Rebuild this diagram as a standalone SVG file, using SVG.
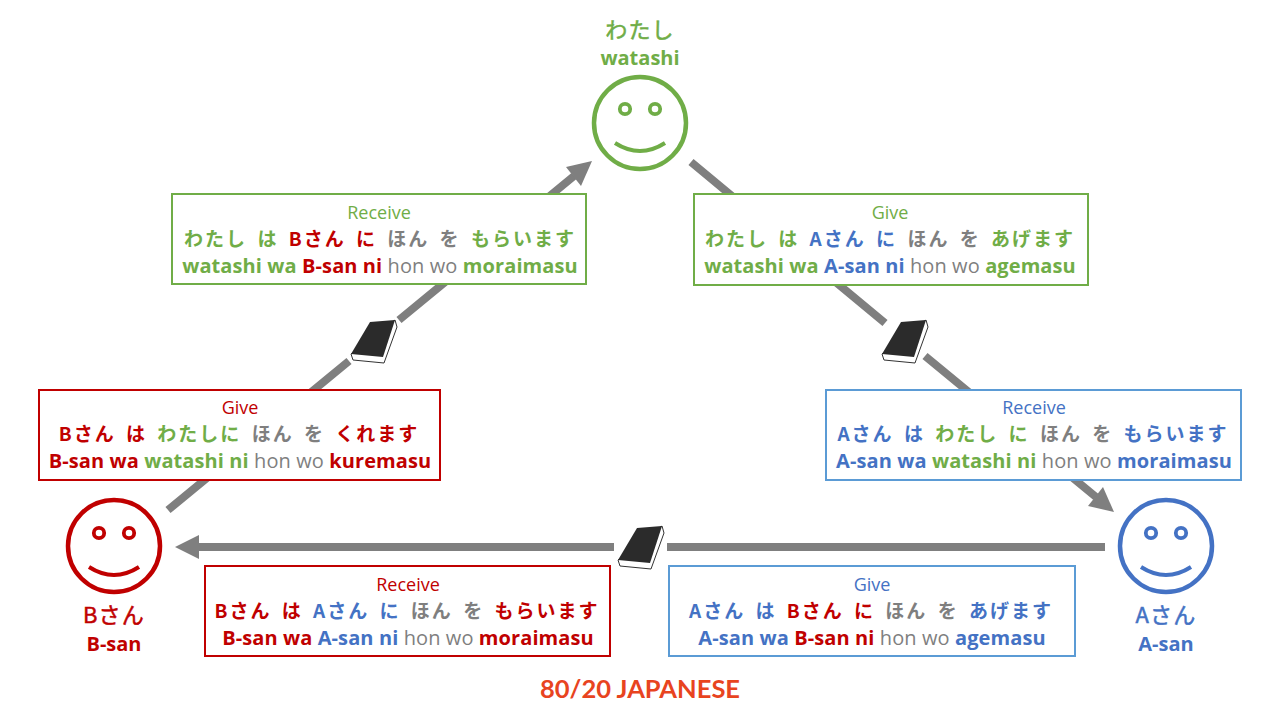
<svg xmlns="http://www.w3.org/2000/svg" width="1280" height="720" viewBox="0 0 1280 720">
<style>
text{text-anchor:middle;font-family:"Open Sans","Noto Sans CJK JP",sans-serif}
.t{font-size:18px}
.j{font-size:19px;font-weight:700;font-family:"Noto Sans CJK JP",sans-serif;word-spacing:4px;letter-spacing:2px}
.r{font-size:20px;font-weight:700;letter-spacing:.1px}
.n{font-weight:400;fill:#7f7f7f}
.gk{fill:#7f7f7f}
.g{fill:#70ad47}.d{fill:#c00000}.b{fill:#4472c4}
.box{fill:#fff;stroke-width:2}
.face{fill:none;stroke-width:4.5}
.eye{fill:none;stroke-width:3.8}
.smile{fill:none;stroke-width:4}
.c{fill:none;stroke:#7f7f7f;stroke-width:8}
.ah{fill:#7f7f7f}
.cover{fill:#2b2b2b}
.page{fill:#fff;stroke:#333;stroke-width:1}
.nj{font-size:22px;font-family:"Noto Sans CJK JP",sans-serif;letter-spacing:1.2px;stroke-width:.5px}
.nj.g{stroke:#70ad47}.nj.d{stroke:#c00000}.nj.b{stroke:#4472c4}
.nr{font-size:20px;font-weight:700}
</style>
<defs>
<g id="book">
<path class="page" d="M22-21L24-14L11 22L-20 19L-22 13Z"/>
<path class="cover" d="M-22 13L-3-19L22-21L10 16Z"/>
</g>
</defs>
<g id="connectors">
<path class="c" d="M168 510L349 361M399 320L574 176"/>
<path class="ah" d="M592 161L566 167L581 186Z"/>
<path class="c" d="M691 162L885 323M925 356L1096 497"/>
<path class="ah" d="M1114 512L1103 487L1088 506Z"/>
<path class="c" d="M1105 547L667 547M614 547L198 547"/>
<path class="ah" d="M175 547L199 535L199 559Z"/>
</g>
<g id="books">
<use href="#book" x="373" y="341"/>
<use href="#book" x="904" y="341"/>
<use href="#book" x="640" y="547"/>
</g>
<g id="node-watashi">
<text class="nj g" x="640" y="38">わたし</text>
<text class="nr g" x="640" y="65">watashi</text>
<circle class="face" cx="640" cy="123" r="46" stroke="#70ad47"/>
<circle class="eye" cx="625" cy="109" r="5.2" stroke="#70ad47"/>
<circle class="eye" cx="655" cy="109" r="5.2" stroke="#70ad47"/>
<path class="smile" d="M615 143Q640 159 665 143" stroke="#70ad47"/>
</g>
<g id="node-bsan">
<circle class="face" cx="114" cy="546" r="46" stroke="#c00000"/>
<circle class="eye" cx="99" cy="533" r="5.2" stroke="#c00000"/>
<circle class="eye" cx="129" cy="533" r="5.2" stroke="#c00000"/>
<path class="smile" d="M89 567Q114 583 139 567" stroke="#c00000"/>
<text class="nj d" x="114" y="623">Bさん</text>
<text class="nr d" x="114" y="651">B-san</text>
</g>
<g id="node-asan">
<circle class="face" cx="1166" cy="546" r="46" stroke="#4472c4"/>
<circle class="eye" cx="1151" cy="533" r="5.2" stroke="#4472c4"/>
<circle class="eye" cx="1181" cy="533" r="5.2" stroke="#4472c4"/>
<path class="smile" d="M1141 567Q1166 583 1191 567" stroke="#4472c4"/>
<text class="nj b" x="1166" y="623">Aさん</text>
<text class="nr b" x="1166" y="651">A-san</text>
</g>
<g id="box-watashi-receive">
<rect class="box" x="172" y="194" width="414" height="90" stroke="#70ad47"/>
<text class="t g" x="379" y="219">Receive</text>
<text class="j" x="380" y="246"><tspan class="g">わたし は </tspan><tspan class="d">Bさん に </tspan><tspan class="gk">ほん を </tspan><tspan class="g">もらいます</tspan></text>
<text class="r" x="380" y="273"><tspan class="g">watashi wa </tspan><tspan class="d">B-san ni </tspan><tspan class="n">hon wo </tspan><tspan class="g">moraimasu</tspan></text>
</g>
<g id="box-watashi-give">
<rect class="box" x="694" y="194" width="394" height="91" stroke="#70ad47"/>
<text class="t g" x="890" y="219">Give</text>
<text class="j" x="890" y="246"><tspan class="g">わたし は </tspan><tspan class="b">Aさん に </tspan><tspan class="gk">ほん を </tspan><tspan class="g">あげます</tspan></text>
<text class="r" x="890" y="273"><tspan class="g">watashi wa </tspan><tspan class="b">A-san ni </tspan><tspan class="n">hon wo </tspan><tspan class="g">agemasu</tspan></text>
</g>
<g id="box-bsan-give">
<rect class="box" x="39" y="390" width="401" height="90" stroke="#c00000"/>
<text class="t d" x="240" y="414">Give</text>
<text class="j" x="239" y="441"><tspan class="d">Bさん は </tspan><tspan class="g">わたしに </tspan><tspan class="gk">ほん を </tspan><tspan class="d">くれます</tspan></text>
<text class="r" x="240" y="468"><tspan class="d">B-san wa </tspan><tspan class="g">watashi ni </tspan><tspan class="n">hon wo </tspan><tspan class="d">kuremasu</tspan></text>
</g>
<g id="box-asan-receive">
<rect class="box" x="826" y="390" width="415" height="90" stroke="#5b9bd5"/>
<text class="t b" x="1034" y="414">Receive</text>
<text class="j" x="1033" y="441"><tspan class="b">Aさん は </tspan><tspan class="g">わたし に </tspan><tspan class="gk">ほん を </tspan><tspan class="b">もらいます</tspan></text>
<text class="r" x="1034" y="468"><tspan class="b">A-san wa </tspan><tspan class="g">watashi ni </tspan><tspan class="n">hon wo </tspan><tspan class="b">moraimasu</tspan></text>
</g>
<g id="box-bsan-receive">
<rect class="box" x="205" y="566" width="405" height="90" stroke="#c00000"/>
<text class="t d" x="408" y="591">Receive</text>
<text class="j" x="407" y="618"><tspan class="d">Bさん は </tspan><tspan class="b">Aさん に </tspan><tspan class="gk">ほん を </tspan><tspan class="d">もらいます</tspan></text>
<text class="r" x="408" y="645"><tspan class="d">B-san wa </tspan><tspan class="b">A-san ni </tspan><tspan class="n">hon wo </tspan><tspan class="d">moraimasu</tspan></text>
</g>
<g id="box-asan-give">
<rect class="box" x="669" y="566" width="406" height="90" stroke="#5b9bd5"/>
<text class="t b" x="872" y="591">Give</text>
<text class="j" x="871" y="618"><tspan class="b">Aさん は </tspan><tspan class="d">Bさん に </tspan><tspan class="gk">ほん を </tspan><tspan class="b">あげます</tspan></text>
<text class="r" x="872" y="645"><tspan class="b">A-san wa </tspan><tspan class="d">B-san ni </tspan><tspan class="n">hon wo </tspan><tspan class="b">agemasu</tspan></text>
</g>
<text id="brand" x="640" y="698" style="font-family:'Lato',sans-serif;font-size:25.5px;font-weight:700;fill:#e8441f">80/20 JAPANESE</text>
</svg>
